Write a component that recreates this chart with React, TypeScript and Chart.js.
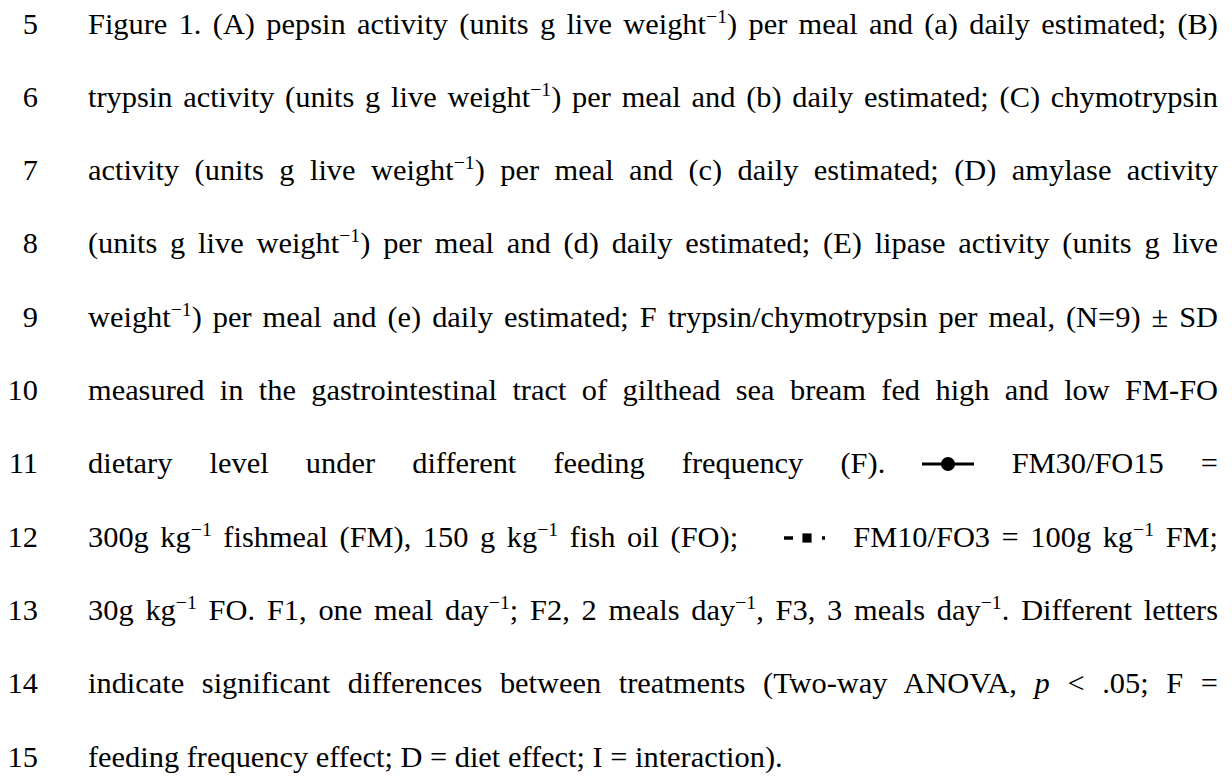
import React, { useEffect, useRef } from "react";
import { Chart, registerables } from "chart.js";

Chart.register(...registerables);

// Legend symbol data (x positions along the small key line, y = 0)
const keyX = [0, 1, 2];
const keyY = [0, 0, 0];
const fm30PointRadius = [0, 7, 0];
const fm10PointRadius = [0, 6.5, 0];

const lineNumbers = [5, 6, 7, 8, 9, 10, 11, 12, 13, 14, 15];

const FONT = "'Liberation Serif', 'Times New Roman', serif";
const FS = 30.4;
const FIRST_BASELINE = 34;
const LINE_STEP = 73.3;
const NUM_RIGHT = 38;
const TEXT_LEFT = 88;
const TEXT_RIGHT = 1218;

function KeySymbol({ kind }: { kind: "fm30" | "fm10" }) {
  const ref = useRef<HTMLCanvasElement | null>(null);
  const w = kind === "fm30" ? 52 : 46;
  const h = 20;
  useEffect(() => {
    if (!ref.current) return;
    const chart = new Chart(ref.current, {
      type: "line",
      data: {
        labels: keyX,
        datasets: [
          {
            data: keyX.map((x, i) => ({ x, y: keyY[i] })),
            borderColor: "#000",
            backgroundColor: "#000",
            borderWidth: kind === "fm30" ? 3 : 3.5,
            borderDash: kind === "fm30" ? [] : [9, 29, 3, 20],
            pointRadius: kind === "fm30" ? fm30PointRadius : fm10PointRadius,
            pointStyle: kind === "fm30" ? "circle" : "rect",
            pointBorderWidth: 0,
            pointBackgroundColor: "#000",
            tension: 0,
          },
        ],
      },
      options: {
        animation: false,
        responsive: false,
        events: [],
        layout: { padding: 0, autoPadding: false },
        plugins: { legend: { display: false }, tooltip: { enabled: false } },
        scales: {
          x: { type: "linear", min: 0, max: 2, display: false },
          y: { type: "linear", min: -1, max: 1, display: false },
        },
      },
    });
    return () => chart.destroy();
  }, [kind]);
  return (
    <canvas
      ref={ref}
      width={w}
      height={h}
      style={{ width: w, height: h, display: "inline-block", verticalAlign: "-1px" }}
    />
  );
}

const Sup = ({ children }: { children: React.ReactNode }) => (
  <sup style={{ fontSize: "0.65em", lineHeight: 0, verticalAlign: "0.55em" }}>{children}</sup>
);

const lines: React.ReactNode[] = [
  <>Figure 1. (A) pepsin activity (units g live weight<Sup>−1</Sup>) per meal and (a) daily estimated; (B)</>,
  <>trypsin activity (units g live weight<Sup>−1</Sup>) per meal and (b) daily estimated; (C) chymotrypsin</>,
  <>activity (units g live weight<Sup>−1</Sup>) per meal and (c) daily estimated; (D) amylase activity</>,
  <>(units g live weight<Sup>−1</Sup>) per meal and (d) daily estimated; (E) lipase activity (units g live</>,
  <>weight<Sup>−1</Sup>) per meal and (e) daily estimated; F trypsin/chymotrypsin per meal, (N=9) ± SD</>,
  <>measured in the gastrointestinal tract of gilthead sea bream fed high and low FM-FO</>,
  <>dietary level under different feeding frequency (F). <KeySymbol kind="fm30" /> FM30/FO15 =</>,
  <>300g kg<Sup>−1</Sup> fishmeal (FM), 150 g kg<Sup>−1</Sup> fish oil (FO);<span style={{ display: "inline-block", width: 34 }} /> <KeySymbol kind="fm10" /><span style={{ display: "inline-block", width: 12 }} /> FM10/FO3 = 100g kg<Sup>−1</Sup> FM;</>,
  <>30g kg<Sup>−1</Sup> FO. F1, one meal day<Sup>−1</Sup>; F2, 2 meals day<Sup>−1</Sup>, F3, 3 meals day<Sup>−1</Sup>. Different letters</>,
  <>indicate significant differences between treatments (Two-way ANOVA, <i>p</i> &lt; .05; F =</>,
  <>feeding frequency effect; D = diet effect; I = interaction).</>,
];

export default function App() {
  return (
    <div
      style={{
        position: "absolute",
        left: 0,
        top: 0,
        width: 1232,
        height: 778,
        background: "#fff",
        color: "#000",
        fontFamily: FONT,
        fontSize: FS,
        overflow: "hidden",
      }}
    >
      {lines.map((content, i) => {
        const top = FIRST_BASELINE + i * LINE_STEP - 25.5;
        const last = i === lines.length - 1;
        return (
          <div key={i} style={{ position: "absolute", top, left: 0, width: 1232, height: FS, lineHeight: `${FS}px` }}>
            <div style={{ position: "absolute", left: 0, width: NUM_RIGHT, textAlign: "right", whiteSpace: "nowrap" }}>
              {lineNumbers[i]}
            </div>
            <div
              style={{
                position: "absolute",
                left: TEXT_LEFT,
                width: TEXT_RIGHT - TEXT_LEFT,
                textAlign: last ? "left" : "justify",
                textAlignLast: last ? "left" : "justify",
              }}
            >
              {content}
            </div>
          </div>
        );
      })}
    </div>
  );
}
